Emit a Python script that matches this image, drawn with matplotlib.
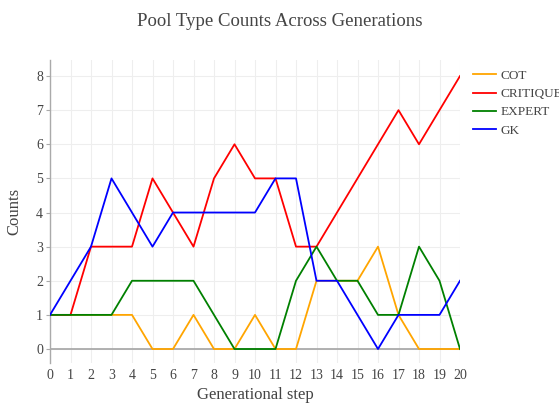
import matplotlib
matplotlib.use("Agg")
import matplotlib.pyplot as plt

steps = list(range(21))
cot = [1, 1, 1, 1, 1, 0, 0, 1, 0, 0, 1, 0, 0, 2, 2, 2, 3, 1, 0, 0, 0]
critique = [1, 1, 3, 3, 3, 5, 4, 3, 5, 6, 5, 5, 3, 3, 4, 5, 6, 7, 6, 7, 8]
expert = [1, 1, 1, 1, 2, 2, 2, 2, 1, 0, 0, 0, 2, 3, 2, 2, 1, 1, 3, 2, 0]
gk = [1, 2, 3, 5, 4, 3, 4, 4, 4, 4, 4, 5, 5, 2, 2, 1, 0, 1, 1, 1, 2]

series = [
    ("COT", cot, "#FFA500"),
    ("CRITIQUE", critique, "#FF0000"),
    ("EXPERT", expert, "#008000"),
    ("GK", gk, "#0000FF"),
]

plt.rcParams["font.family"] = ["Liberation Serif", "DejaVu Serif"]
text_color = "#444444"

fig = plt.figure(figsize=(5.59, 4.05), dpi=100)
ax = fig.add_axes([50 / 559, 42 / 405, 410 / 559, 303 / 405])

for name, vals, color in series:
    ax.plot(steps, vals, color=color, linewidth=1.3, label=name, zorder=3)

ax.set_xlim(0, 20)
ax.set_ylim(-0.41, 8.47)
ax.set_xticks(steps)
ax.set_yticks(range(9))
ax.axhline(0, color="#aaaaaa", linewidth=1.3, zorder=2)
ax.grid(True, color="#eeeeee", linewidth=0.8, zorder=0)

for side in ["top", "right", "bottom"]:
    ax.spines[side].set_visible(False)
ax.spines["left"].set_color("#aaaaaa")
ax.spines["left"].set_linewidth(1.0)

ax.tick_params(axis="x", length=0, pad=4, labelsize=10, labelcolor=text_color)
ax.tick_params(axis="y", length=3, width=0.8, color="#aaaaaa", pad=2, labelsize=10, labelcolor=text_color)

ax.set_xlabel("Generational step", fontsize=12, color=text_color, labelpad=4)
ax.set_ylabel("Counts", fontsize=12, color=text_color, labelpad=10)
fig.suptitle("Pool Type Counts Across Generations", fontsize=13.5, color=text_color, x=0.5, y=0.968)

leg = ax.legend(loc="upper left", bbox_to_anchor=(1.02, 0.985), frameon=False,
                fontsize=9.5, handlelength=1.7, handletextpad=0.35, labelspacing=0.45,
                borderaxespad=0.0)
for t in leg.get_texts():
    t.set_color(text_color)

fig.savefig("out.png", dpi=100)
